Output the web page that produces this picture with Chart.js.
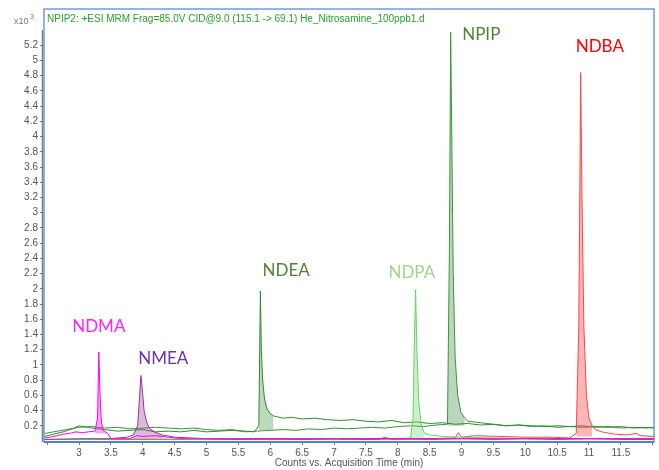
<!DOCTYPE html>
<html>
<head>
<meta charset="utf-8">
<script src="https://cdn.jsdelivr.net/npm/chart.js@4.4.1/dist/chart.umd.min.js"></script>
<style>
  html, body { margin: 0; padding: 0; background: #fff; }
  canvas { display: block; }
</style>
</head>
<body>
<canvas id="myChart" width="659" height="470"></canvas>
<script>
// acquisition time (min) and counts (x10^3) for each MRM trace
var compoundNames = ['NDMA', 'NMEA', 'NDEA', 'NDPA', 'NPIP', 'NDBA'];

var ndmaTime = [2.46, 2.55, 2.65, 2.75, 2.85, 2.95, 3.05, 3.15, 3.25, 3.29, 3.31, 3.33, 3.35, 3.38, 3.45, 3.5, 3.6, 3.8, 3.9, 4.0, 4.2, 4.4, 4.6, 5.0, 5.5, 6.0, 6.5, 7.0, 7.5, 8.0, 8.5, 9.0, 9.5, 10.0, 10.5, 11.0, 11.5, 12.02];
var ndmaCounts = [0.04, 0.05, 0.07, 0.09, 0.1, 0.12, 0.11, 0.12, 0.13, 0.3, 1.17, 0.6, 0.25, 0.14, 0.1, 0.03, 0.03, 0.03, 0.07, 0.06, 0.07, 0.05, 0.03, 0.03, 0.02, 0.03, 0.02, 0.03, 0.02, 0.03, 0.02, 0.03, 0.02, 0.03, 0.02, 0.03, 0.02, 0.02];

var nmeaTime = [2.46, 3.0, 3.5, 3.6, 3.75, 3.85, 3.92, 3.95, 3.97, 3.99, 4.02, 4.06, 4.1, 4.18, 4.3, 4.5, 5.0, 6.0, 7.0, 8.0, 9.0, 10.0, 11.0, 12.02];
var nmeaCounts = [0.02, 0.03, 0.03, 0.04, 0.05, 0.08, 0.2, 0.6, 0.86, 0.7, 0.4, 0.25, 0.17, 0.12, 0.08, 0.05, 0.03, 0.03, 0.03, 0.03, 0.03, 0.03, 0.03, 0.03];

var ndeaTime = [2.46, 2.6, 2.75, 2.9, 3.0, 3.2, 3.4, 3.6, 3.8, 4.0, 4.2, 4.4, 4.6, 4.8, 5.0, 5.2, 5.4, 5.6, 5.75, 5.82, 5.845, 5.86, 5.88, 5.91, 5.95, 6.0, 6.05, 6.1, 6.2, 6.35, 6.5, 6.7, 6.9, 7.1, 7.3, 7.5, 7.7, 7.9, 8.1, 8.3, 8.5, 8.7, 8.9, 9.1, 9.3, 9.5, 9.7, 9.9, 10.1, 10.3, 10.5, 10.7, 10.9, 11.1, 11.3, 11.5, 11.7, 11.9, 12.02];
var ndeaCounts = [0.06, 0.09, 0.12, 0.16, 0.2, 0.17, 0.15, 0.13, 0.14, 0.15, 0.12, 0.13, 0.12, 0.14, 0.12, 0.13, 0.14, 0.13, 0.12, 0.2, 1.97, 1.2, 0.8, 0.55, 0.42, 0.36, 0.33, 0.32, 0.3, 0.31, 0.29, 0.3, 0.28, 0.27, 0.28, 0.26, 0.25, 0.27, 0.24, 0.25, 0.23, 0.24, 0.22, 0.23, 0.21, 0.22, 0.2, 0.21, 0.2, 0.19, 0.2, 0.19, 0.18, 0.19, 0.18, 0.19, 0.17, 0.18, 0.17];

var ndpaTime = [2.46, 3.0, 4.0, 5.0, 6.0, 7.0, 7.5, 8.0, 8.2, 8.24, 8.26, 8.28, 8.3, 8.33, 8.37, 8.42, 8.5, 8.7, 9.0, 9.5, 10.0, 11.0, 12.02];
var ndpaCounts = [0.02, 0.02, 0.03, 0.02, 0.03, 0.02, 0.03, 0.03, 0.04, 0.3, 1.3, 1.99, 1.2, 0.5, 0.2, 0.1, 0.08, 0.06, 0.05, 0.04, 0.03, 0.03, 0.03];

var npipTime = [2.46, 2.6, 2.8, 3.0, 3.2, 3.4, 3.6, 3.8, 4.0, 4.2, 4.4, 4.6, 4.8, 5.0, 5.2, 5.4, 5.6, 5.8, 6.0, 6.2, 6.4, 6.6, 6.8, 7.0, 7.2, 7.4, 7.6, 7.8, 8.0, 8.2, 8.4, 8.6, 8.78, 8.81, 8.83, 8.85, 8.87, 8.9, 8.94, 8.99, 9.05, 9.1, 9.3, 9.5, 9.7, 9.9, 10.1, 10.3, 10.5, 10.7, 10.9, 11.1, 11.3, 11.5, 11.7, 11.9, 12.02];
var npipCounts = [0.1, 0.12, 0.15, 0.18, 0.19, 0.17, 0.18, 0.16, 0.17, 0.18, 0.17, 0.16, 0.17, 0.15, 0.14, 0.15, 0.12, 0.13, 0.14, 0.15, 0.14, 0.16, 0.15, 0.17, 0.16, 0.17, 0.18, 0.17, 0.19, 0.2, 0.19, 0.21, 0.22, 2.5, 5.37, 3.8, 2.2, 1.1, 0.6, 0.38, 0.3, 0.26, 0.24, 0.22, 0.2, 0.21, 0.19, 0.2, 0.18, 0.19, 0.2, 0.18, 0.19, 0.17, 0.18, 0.17, 0.18];

var ndbaTime = [2.46, 3.0, 4.0, 5.0, 6.0, 7.0, 7.7, 7.8, 7.9, 8.5, 8.9, 8.95, 9.0, 9.2, 9.6, 10.0, 10.4, 10.7, 10.8, 10.84, 10.87, 10.89, 10.92, 10.96, 11.0, 11.05, 11.1, 11.2, 11.4, 11.6, 11.75, 11.8, 12.02];
var ndbaCounts = [0.02, 0.02, 0.02, 0.02, 0.02, 0.02, 0.02, 0.05, 0.02, 0.03, 0.04, 0.11, 0.05, 0.07, 0.06, 0.05, 0.05, 0.04, 0.1, 1.5, 4.84, 3.2, 1.5, 0.6, 0.3, 0.2, 0.15, 0.12, 0.09, 0.08, 0.1, 0.07, 0.06];

// integration windows (start, end) in min
var peakWindows = [[3.25, 3.45], [3.85, 4.3], [5.82, 6.05], [8.2, 8.45], [8.78, 9.05], [10.8, 11.05]];

var xTicksMin = 2.45, xTicksMax = 12.02;
var yTicksMin = 0, yTicksMax = 5.4;

function toPoints(t, c) {
    return t.map(function (v, i) { return { x: v, y: c[i] }; });
}

function trace(idx, t, c, line, fill, base) {
    var w = peakWindows[idx];
    return {
        label: compoundNames[idx],
        data: toPoints(t, c),
        borderColor: line,
        backgroundColor: fill,
        borderWidth: 1,
        pointRadius: 0,
        tension: 0,
        fill: { value: base },
        segment: {
            backgroundColor: function (ctx) {
                return (ctx.p0.parsed.x >= w[0] && ctx.p1.parsed.x <= w[1]) ? fill : 'rgba(0,0,0,0)';
            }
        }
    };
}

function fmt(v) {
    return String(Math.round(v * 10) / 10);
}

// frame, title, multiplier and peak names
var decorations = {
    id: 'decorations',
    afterDraw: function (chart) {
        var c = chart.ctx, xs = chart.scales.x, ys = chart.scales.y, a = chart.chartArea;
        c.save();
        // y axis line
        c.strokeStyle = '#808080';
        c.lineWidth = 1.5;
        c.beginPath();
        c.moveTo(42.5, a.top);
        c.lineTo(42.5, a.bottom + 1);
        c.stroke();
        // blue frame
        c.strokeStyle = '#4f81d6';
        c.lineWidth = 1.2;
        c.strokeRect(44, 9, a.right - 44, a.bottom - 9 + 1);
        c.lineWidth = 2;
        c.beginPath();
        c.moveTo(44, a.bottom + 1);
        c.lineTo(a.right, a.bottom + 1);
        c.stroke();

        c.textBaseline = 'alphabetic';
        c.textAlign = 'left';
        c.fillStyle = '#2ca02c';
        c.font = '10px "Liberation Sans", Arial, sans-serif';
        c.fillText('NPIP2: +ESI MRM Frag=85.0V CID@9.0 (115.1 -> 69.1) He_Nitrosamine_100ppb1.d', 47, 22);

        c.fillStyle = '#777';
        c.font = '9px "Liberation Sans", Arial, sans-serif';
        c.fillText('x10', 14, 24);
        c.font = '7px "Liberation Sans", Arial, sans-serif';
        c.fillText('3', 30, 19);

        c.textAlign = 'center';
        c.fillStyle = '#555';
        c.font = '10px "Liberation Sans", Arial, sans-serif';
        c.fillText('Counts vs. Acquisition Time (min)', (a.left + a.right) / 2, 466);

        var names = [
            { x: 3.31, y: 1.51, color: '#ff22ff' },
            { x: 4.32, y: 1.08, color: '#7030a0' },
            { x: 6.25, y: 2.24, color: '#548235' },
            { x: 8.22, y: 2.22, color: '#a9d18e' },
            { x: 9.31, y: 5.34, color: '#548235' },
            { x: 11.17, y: 5.18, color: '#ff0000' }
        ];
        c.font = '17px Lato, "Open Sans", sans-serif';
        c.textBaseline = 'middle';
        names.forEach(function (n, i) {
            c.fillStyle = n.color;
            c.fillText(compoundNames[i], xs.getPixelForValue(n.x), ys.getPixelForValue(n.y));
        });
        c.restore();
    }
};

var ctx = document.getElementById('myChart').getContext('2d');
var chart = new Chart(ctx, {
    type: 'line',
    data: {
        datasets: [
            trace(0, ndmaTime, ndmaCounts, '#ff00ff', 'rgba(255,0,255,0.35)', 0.1),
            trace(1, nmeaTime, nmeaCounts, '#993399', 'rgba(150,60,150,0.35)', 0.04),
            trace(3, ndpaTime, ndpaCounts, '#66d066', 'rgba(110,210,110,0.35)', 0.03),
            trace(5, ndbaTime, ndbaCounts, '#ff4444', 'rgba(255,70,70,0.4)', 0.06),
            trace(2, ndeaTime, ndeaCounts, '#2e8b2e', 'rgba(60,150,60,0.35)', 0.14),
            trace(4, npipTime, npipCounts, '#3a943a', 'rgba(60,140,60,0.35)', 0.2)
        ]
    },
    options: {
        responsive: false,
        animation: false,
        devicePixelRatio: 1,
        layout: { padding: { top: 30, right: 5, left: 0, bottom: 0 } },
        plugins: { legend: { display: false }, tooltip: { enabled: false } },
        scales: {
            x: {
                type: 'linear',
                min: xTicksMin,
                max: xTicksMax,
                afterFit: function (s) { s.height = 29; },
                border: { display: false },
                grid: { drawOnChartArea: false, drawTicks: true, tickLength: 4, tickColor: '#777' },
                ticks: {
                    stepSize: 0.5,
                    includeBounds: false,
                    maxRotation: 0,
                    autoSkip: false,
                    padding: 2,
                    color: '#555',
                    font: { family: '"Liberation Sans", Arial, sans-serif', size: 10 },
                    callback: function (v) { return (v < 2.9 || v > 11.9) ? '' : fmt(v); }
                }
            },
            y: {
                min: yTicksMin,
                max: yTicksMax,
                afterFit: function (s) { s.width = 44; },
                border: { display: false },
                grid: { drawOnChartArea: false, drawTicks: true, tickLength: 4, tickColor: '#777' },
                ticks: {
                    stepSize: 0.2,
                    includeBounds: false,
                    autoSkip: false,
                    padding: 2,
                    color: '#555',
                    font: { family: '"Liberation Sans", Arial, sans-serif', size: 10 },
                    callback: function (v) { return (v < 0.1 || v > 5.3) ? null : fmt(v); }
                }
            }
        }
    },
    plugins: [decorations]
});
</script>
</body>
</html>
